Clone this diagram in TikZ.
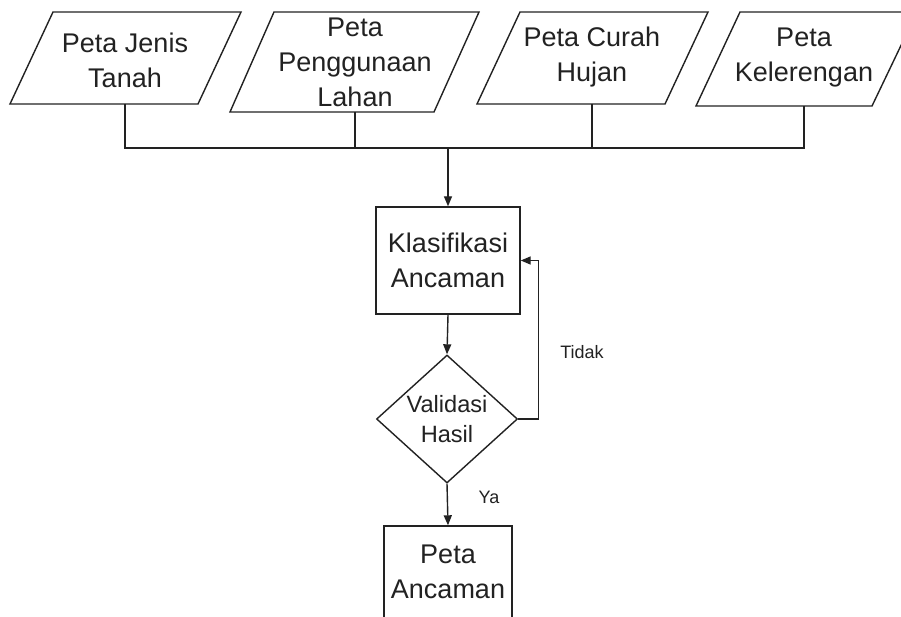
\documentclass[tikz,border=0pt]{standalone}
\usepackage{fontspec}
\setmainfont{Liberation Sans}
\usetikzlibrary{shapes.geometric,arrows.meta}
\definecolor{inkgray}{HTML}{222222}
\tikzset{
  line/.style={draw=inkgray, line width=1.4pt},
  arrow/.style={line, -{Triangle[length=10pt,width=8pt]}},
  maptext/.style={align=center, text=inkgray, inner sep=0pt, font=\fontsize{27}{35}\selectfont},
  procbox/.style={draw=inkgray, line width=1.4pt, align=center, text=inkgray, inner sep=0pt, font=\fontsize{27}{35}\selectfont},
  decision/.style={diamond, draw=inkgray, line width=1.4pt, align=center, text=inkgray, inner sep=0pt, aspect=1.1, font=\fontsize{23.6}{30}\selectfont},
  notetext/.style={text=inkgray, inner sep=0pt, font=\fontsize{18}{20}\selectfont}
}
\begin{document}
\begin{tikzpicture}[x=1pt,y=-1pt]
    \clip (0,0) rectangle (901,617);
    \fill[white] (0,0) rectangle (901,617);
    % input maps
    \draw[line] (10,104) -- (198,104) -- (241,12) -- (53,12) -- cycle;
    \draw[line] (230,112) -- (434,112) -- (479,12) -- (274,12) -- cycle;
    \draw[line] (477,104) -- (665,104) -- (708,12) -- (520,12) -- cycle;
    \draw[line] (696,106) -- (872,106) -- (917,12) -- (740,12) -- cycle;
    \node[maptext] (jenis) at (125,60) {Peta Jenis\\Tanah};
    \node[maptext] (guna) at (355,62) {Peta\\Penggunaan\\Lahan};
    \node[maptext] (curah) at (592,57) {Peta Curah\\Hujan};
    \node[maptext] (lereng) at (804,58) {Peta\\Kelerengan};
    \coordinate (jenisb) at (125,104);
    \coordinate (gunab) at (355,112);
    \coordinate (curahb) at (592,104);
    \coordinate (lerengb) at (804,106);
    \coordinate (bus) at (448,148);
    % process
    \node[procbox, minimum width=144pt, minimum height=107pt] (klas) at (448,260.5) {Klasifikasi\\Ancaman};
    \node[decision, minimum width=141pt, minimum height=128pt] (valid) at (447,419) {Validasi\\Hasil};
    \node[procbox, minimum width=128pt, minimum height=92pt] (hasil) at (448,572) {Peta\\Ancaman};
    \node[notetext] (tidak) at (582,352) {Tidak};
    \node[notetext] (ya) at (489,497) {Ya};
    % connectors
    \draw[line] (jenisb) |- (bus) -| (lerengb);
    \draw[line] (gunab) -- (gunab |- bus);
    \draw[line] (curahb) -- (curahb |- bus);
    \draw[arrow] (bus) -- (klas.north);
    \draw[arrow] (klas.south) -- (valid.north);
    \draw[arrow] (valid.east) -- ++(20,0) |- (klas.east);
    \draw[arrow] (valid.south) -- (hasil.north);
\end{tikzpicture}
\end{document}
